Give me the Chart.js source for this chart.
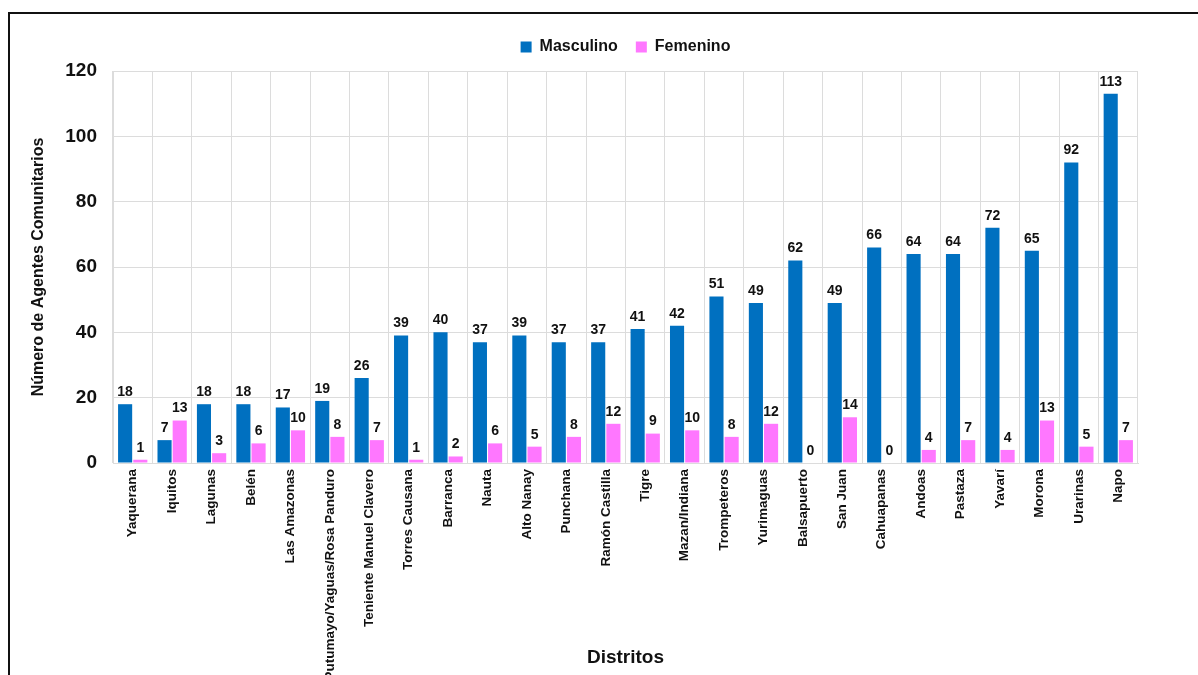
<!DOCTYPE html>
<html>
<head>
<meta charset="utf-8">
<script src="https://cdn.jsdelivr.net/npm/chart.js@4"></script>
<style>
  html, body { margin: 0; padding: 0; background: #fff; overflow: hidden; }
  #wrap { position: relative; width: 1198px; height: 675px; }
  #frame { position: absolute; left: 8px; top: 12px; width: 1400px; height: 900px; border: 2px solid #111; box-sizing: border-box; }
  canvas { position: absolute; left: 0; top: 0; }
</style>
</head>
<body>
<div id="wrap">
  <div id="frame"></div>
  <canvas id="myChart" width="1198" height="675"></canvas>
</div>
<script>
const distritos = [
  'Yaquerana', 'Iquitos', 'Lagunas', 'Belén', 'Las Amazonas',
  'Putumayo/Yaguas/Rosa Panduro', 'Teniente Manuel Clavero', 'Torres Causana',
  'Barranca', 'Nauta', 'Alto Nanay', 'Punchana', 'Ramón Castilla', 'Tigre',
  'Mazan/Indiana', 'Trompeteros', 'Yurimaguas', 'Balsapuerto', 'San Juan',
  'Cahuapanas', 'Andoas', 'Pastaza', 'Yavarí', 'Morona', 'Urarinas', 'Napo'
]

const masculino = [18, 7, 18, 18, 17, 19, 26, 39, 40, 37, 39, 37, 37, 41, 42, 51, 49, 62, 49, 66, 64, 64, 72, 65, 92, 113]
const femenino = [1, 13, 3, 6, 10, 8, 7, 1, 2, 6, 5, 8, 12, 9, 10, 8, 12, 0, 14, 0, 4, 7, 4, 13, 5, 7]

const yTicks = [0, 20, 40, 60, 80, 100, 120]

const FONT = '"Liberation Sans", Arial, sans-serif'

// numbers above each bar
const valueLabels = {
  id: 'valueLabels',
  afterDatasetsDraw(chart) {
    let ctx = chart.ctx
    ctx.save()
    ctx.font = 'bold 14px ' + FONT
    ctx.fillStyle = '#111'
    ctx.textAlign = 'center'
    ctx.textBaseline = 'bottom'
    chart.data.datasets.forEach((ds, i) => {
      chart.getDatasetMeta(i).data.forEach((bar, j) => {
        ctx.fillText(ds.data[j], bar.x, bar.y - 5)
      })
    })
    ctx.restore()
  }
}

// a bit more room under the legend without moving it
const legendGap = {
  id: 'legendGap',
  beforeLayout(chart) {
    let legend = chart.legend
    if (legend && !legend._gap) {
      let fit = legend.fit
      legend.fit = function () {
        fit.call(this)
        this.height += 6
      }
      legend._gap = true
    }
  }
}

let data = {
  labels: distritos,
  datasets: [{
    label: 'Masculino',
    backgroundColor: '#0070C0',
    data: masculino,
  }, {
    label: 'Femenino',
    backgroundColor: '#FF77FF',
    data: femenino,
  }]
}

let config = {
  type: 'bar',
  data: data,
  plugins: [valueLabels, legendGap],
  options: {
    responsive: false,
    animation: false,
    layout: { padding: { left: 20, right: 60, top: 21, bottom: 0 } },
    datasets: {
      bar: { categoryPercentage: 0.77, barPercentage: 0.93 }
    },
    plugins: {
      legend: {
        position: 'top',
        fullSize: false,
        labels: {
          font: { family: FONT, size: 16, weight: 'bold' },
          color: '#111',
          boxWidth: 11,
          boxHeight: 11,
          padding: 18
        }
      },
      tooltip: { enabled: false }
    },
    scales: {
      x: {
        grid: { color: '#dcdcdc', drawTicks: false },
        border: { color: '#dcdcdc' },
        ticks: {
          font: { family: FONT, size: 13.5, weight: 'bold' },
          color: '#111',
          minRotation: 90,
          maxRotation: 90,
          autoSkip: false,
          padding: 6
        },
        title: {
          display: true,
          text: 'Distritos',
          font: { family: FONT, size: 19, weight: 'bold' },
          color: '#111',
          padding: { top: 0, bottom: 6 }
        },
        afterFit(scale) { scale.height = 212 }
      },
      y: {
        min: 0,
        max: 120,
        afterBuildTicks(scale) { scale.ticks = yTicks.map(v => ({ value: v })) },
        grid: { color: '#dcdcdc', drawTicks: false },
        border: { color: '#dcdcdc' },
        ticks: {
          font: { family: FONT, size: 19, weight: 'bold' },
          color: '#111',
          padding: 16
        },
        title: {
          display: true,
          text: 'Número de Agentes Comunitarios',
          font: { family: FONT, size: 16, weight: 'bold' },
          color: '#111',
          padding: { top: 9, bottom: 0 }
        },
        afterFit(scale) { scale.width = 93 }
      }
    }
  }
}

myChart = new Chart(document.getElementById('myChart'), config)
</script>
</body>
</html>
